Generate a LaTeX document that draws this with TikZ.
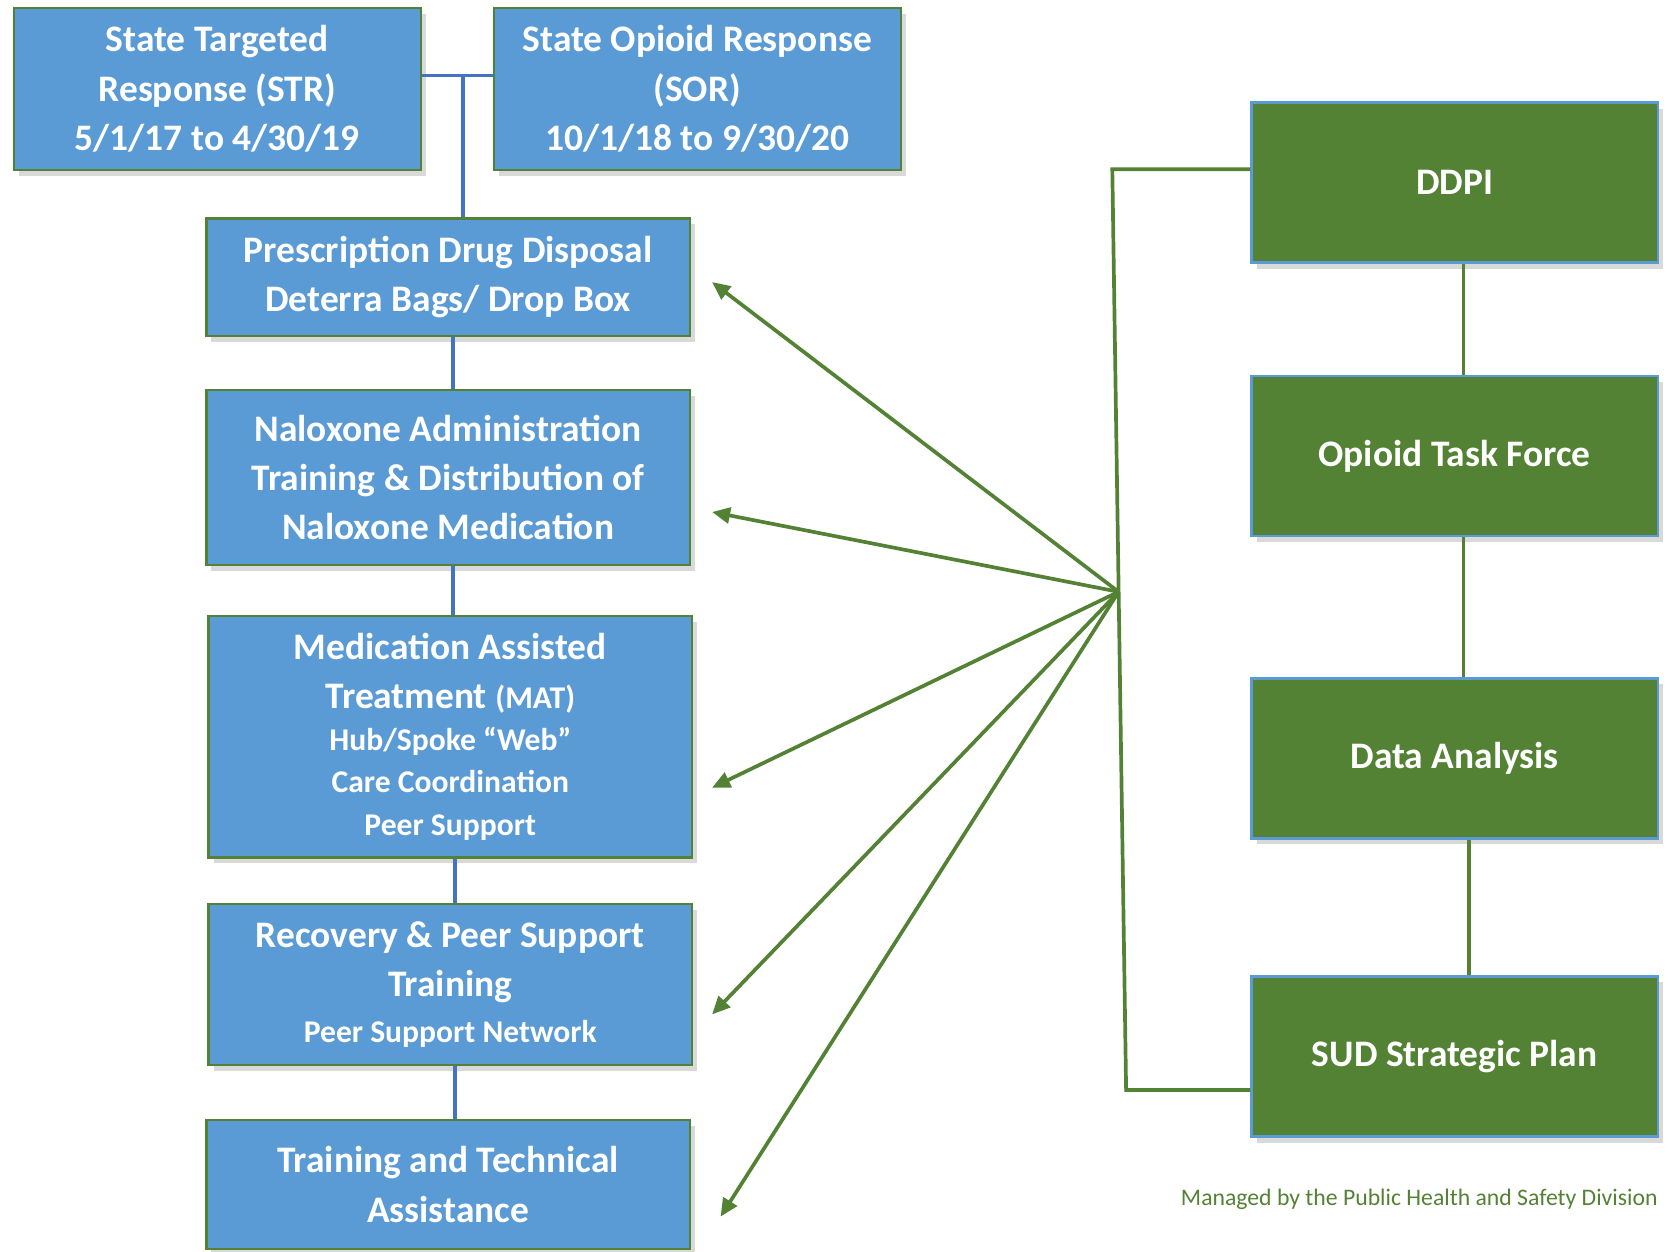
\documentclass[tikz,border=0pt]{standalone}
\usepackage{fontspec}
\setmainfont{Carlito}
\usetikzlibrary{shadows,arrows.meta}

\definecolor{boxblue}{HTML}{5B9BD5}
\definecolor{boxgreen}{HTML}{548235}
\definecolor{lineblue}{HTML}{4472C4}

\def\px{0.5669pt}
\newcommand{\subline}{\fontsize{18}{24}\selectfont}

\begin{document}
\begin{tikzpicture}[x=0.02cm, y=-0.02cm,
    shade/.style={drop shadow={shadow xshift=0.1cm, shadow yshift=-0.12cm, opacity=0.3}},
    bluebox/.style={rectangle, draw=boxgreen, line width=1.3pt, fill=boxblue, text=white,
        align=center, inner sep=0pt, font=\bfseries\fontsize{21.3}{28}\selectfont, shade},
    greenbox/.style={rectangle, draw=boxblue, line width=1.3pt, fill=boxgreen, text=white,
        align=center, inner sep=0pt, minimum width=407.7*\px, minimum height=160.7*\px,
        font=\bfseries\fontsize{21.3}{28}\selectfont, shade},
    bluelink/.style={draw=lineblue, line width=2.1pt},
    greenlink/.style={draw=boxgreen, line width=2.1pt},
    greenarrow/.style={greenlink, -{Triangle[length=0.36cm, width=0.32cm]}}]

  \useasboundingbox (0,0) rectangle (1669,1251);
  \clip (0,0) rectangle (1669,1251);

	%grant boxes
  \node[bluebox, minimum width=408.7*\px, minimum height=162.8*\px] (str) at (217.2, 88.9)
       {State Targeted\\Response (STR)\\5/1/17 to 4/30/19};
  \node[bluebox, minimum width=408.7*\px, minimum height=162.8*\px] (sor) at (697.2, 88.9)
       {State Opioid Response\\(SOR)\\10/1/18 to 9/30/20};

	%program boxes
  \node[bluebox, minimum width=485.4*\px, minimum height=118.2*\px] (pdd) at (448.1, 277.3)
       {Prescription Drug Disposal\\Deterra Bags/ Drop Box};
  \node[bluebox, minimum width=485.4*\px, minimum height=175.6*\px] (nal) at (448.1, 477.4)
       {Naloxone Administration\\Training \& Distribution of\\Naloxone Medication};
  \node[bluebox, minimum width=485.4*\px, minimum height=242.7*\px] (mat) at (450.3, 736.6)
       {Medication Assisted\\Treatment {\subline(MAT)}\\[-4pt]{\subline Hub/Spoke “Web”}\\[-4pt]{\subline Care Coordination}\\[-4pt]{\subline Peer Support}};
  \node[bluebox, minimum width=485.4*\px, minimum height=161.8*\px] (rec) at (450.3, 984.6)
       {Recovery \& Peer Support\\Training\\[-2pt]{\subline Peer Support Network}};
  \node[bluebox, minimum width=485.4*\px, minimum height=129*\px] (tta) at (448.1, 1184.5)
       {Training and Technical\\Assistance};

	%links between blue boxes
  \coordinate (tee) at (463, 75.6);
  \draw[bluelink] (str.east |- tee) -- (sor.west |- tee);
  \draw[bluelink] (tee) -- (tee |- pdd.north);
  \foreach \a/\b in {pdd/nal, nal/mat, mat/rec, rec/tta}{
      \draw[bluelink] ([xshift=0.1cm]\a.south) -- ([xshift=0.1cm]\a.south |- \b.north);
  }

	%state boxes
  \foreach \name/\cy/\txt in {ddpi/182.6/DDPI, otf/456.1/Opioid Task Force, data/758.4/Data Analysis, sud/1056.5/SUD Strategic Plan}{
      \node[greenbox] (\name) at (1454.6, \cy) {\txt};
  }
  \draw[greenlink] ([xshift=0.18cm]ddpi.south) -- ([xshift=0.18cm]otf.north);
  \draw[greenlink] ([xshift=0.18cm]otf.south) -- ([xshift=0.18cm]data.north);
  \draw[greenlink] ([xshift=0.29cm]data.south) -- ([xshift=0.29cm]sud.north);

	%bracket and hub
  \coordinate (topc) at (1112.3, 169.2);
  \coordinate (botc) at (1126.1, 1090);
  \coordinate (hub) at (1118.6, 591.8);
  \draw[greenlink] (ddpi.west |- topc) -- (topc) -- (botc) -- (sud.west |- botc);

	%arrows
  \foreach \name/\tx/\ty in {pdd/712.1/282.1, nal/712.1/512, mat/712.1/787.7, rec/712.1/1014.4, tta/720.6/1216.6}{
      \coordinate (\name-tip) at (\tx, \ty);
      \draw[greenarrow] (hub) -- (\name-tip);
  }

  \node[anchor=east, text=boxgreen, font=\fontsize{13.5}{16}\selectfont, inner sep=0pt] (note) at (1658, 1199.6)
       {Managed by the Public Health and Safety Division};

\end{tikzpicture}
\end{document}
